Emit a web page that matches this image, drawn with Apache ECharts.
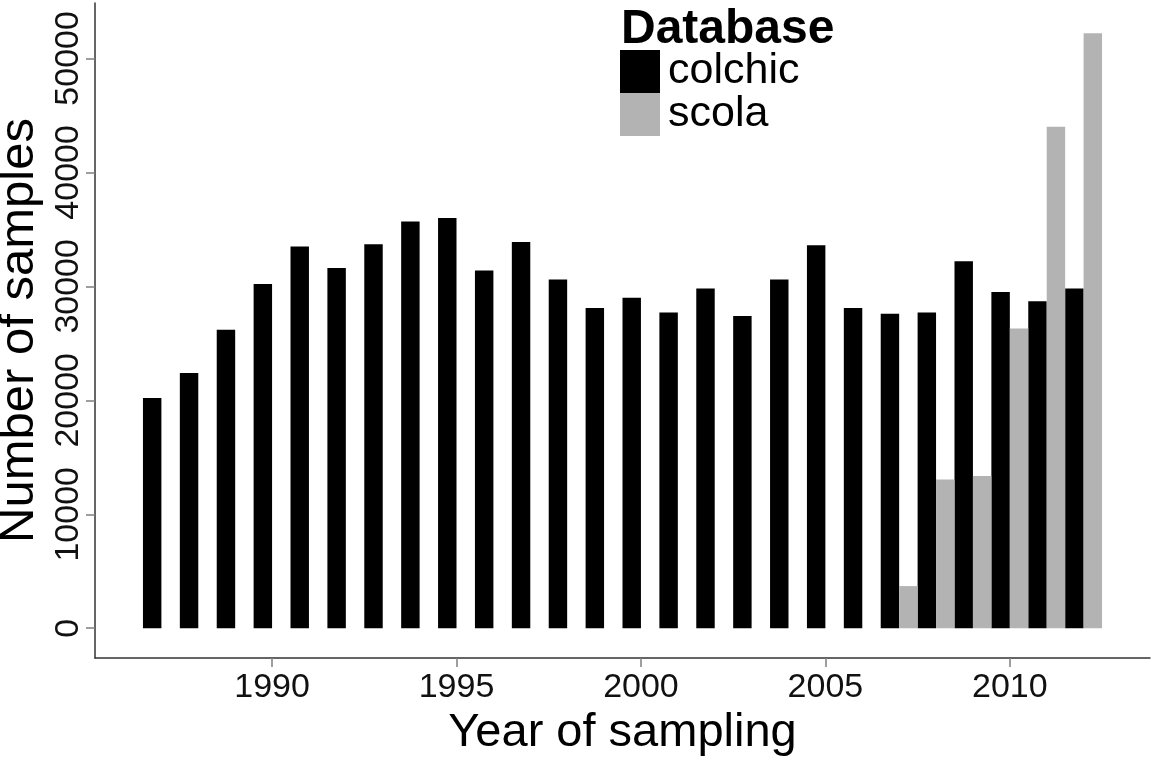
<!DOCTYPE html>
<html>
<head>
<meta charset="utf-8">
<script src="https://cdn.jsdelivr.net/npm/echarts@6/dist/echarts.min.js"></script>
<style>
html,body{margin:0;padding:0;background:#fff;}
#chart{width:1152px;height:760px;}
</style>
</head>
<body>
<div id="chart"></div>
<script>
const years = [1987,1988,1989,1990,1991,1992,1993,1994,1995,1996,1997,1998,1999,2000,2001,2002,2003,2004,2005,2006,2007,2008,2009,2010,2011,2012];
const colchic = [20200,22400,26200,30200,33500,31600,33700,35700,36000,31400,33900,30600,28100,29000,27700,29800,27400,30600,33600,28100,27600,27700,32200,29500,28700,29800];
const scolaYears = [2007,2008,2009,2010,2011,2012];
const scola = [3700,13050,13350,26300,44000,52200];
const xTicks = [1990,1995,2000,2005,2010];
const yTicks = [0,10000,20000,30000,40000,50000];

const HALF = 0.5; // dodged bar width in years

function makeRender(offStart, offEnd) {
  return function (params, api) {
    const x = api.value(0), v = api.value(1);
    const p0 = api.coord([x + offStart, 0]);
    const p1 = api.coord([x + offEnd, v]);
    return {
      type: 'rect',
      shape: { x: p0[0], y: p1[1], width: p1[0] - p0[0], height: p0[1] - p1[1] },
      style: { fill: api.visual('color') }
    };
  };
}

const chart = echarts.init(document.getElementById('chart'), null, { renderer: 'canvas' });
const font = 'Liberation Sans, Arial, sans-serif';
chart.setOption({
  animation: false,
  backgroundColor: '#fff',
  textStyle: { fontFamily: font },
  title: {
    text: 'Database',
    left: 616, top: 1,
    textStyle: { fontFamily: font, fontWeight: 'bold', fontSize: 48, color: '#000' }
  },
  legend: {
    orient: 'vertical',
    left: 620, top: 50,
    itemWidth: 40, itemHeight: 43, itemGap: 0,
    padding: 0,
    data: [{ name: 'colchic', icon: 'rect' }, { name: 'scola', icon: 'rect' }],
    textStyle: { fontFamily: font, fontSize: 43, color: '#000', lineHeight: 43, padding: [0, 0, 0, 3] }
  },
  grid: { left: 95, right: 2, top: 3, bottom: 102, containLabel: false, outerBoundsMode: 'none' },
  xAxis: {
    type: 'value',
    min: 1985.2, max: 2013.8,
    name: 'Year of sampling',
    nameLocation: 'middle',
    nameGap: 52,
    nameTextStyle: { fontFamily: font, fontSize: 47, color: '#000' },
    axisLine: { show: true, onZero: false, lineStyle: { color: '#333', width: 1.5 } },
    axisTick: { show: true, customValues: xTicks, length: 9, lineStyle: { color: '#7f7f7f', width: 1.5 } },
    axisLabel: { customValues: xTicks, fontSize: 34, color: '#111', margin: 13, formatter: v => String(v) },
    splitLine: { show: false }
  },
  yAxis: {
    type: 'value',
    min: -2612, max: 54862,
    name: 'Number of samples',
    nameLocation: 'middle',
    nameRotate: 90,
    nameGap: 34,
    nameTextStyle: { fontFamily: font, fontSize: 49, color: '#000' },
    axisLine: { show: true, onZero: false, lineStyle: { color: '#333', width: 1.5 } },
    axisTick: { show: true, customValues: yTicks, length: 9, lineStyle: { color: '#7f7f7f', width: 1.5 } },
    axisLabel: { customValues: yTicks, rotate: 90, fontSize: 34, color: '#111', margin: 9, formatter: v => String(v) },
    splitLine: { show: false }
  },
  series: [
    {
      name: 'colchic', type: 'custom',
      itemStyle: { color: '#000000' },
      renderItem: makeRender(-HALF, 0),
      encode: { x: 0, y: 1 },
      data: years.map((y, i) => [y, colchic[i]])
    },
    {
      name: 'scola', type: 'custom',
      itemStyle: { color: '#b3b3b3' },
      renderItem: makeRender(0, HALF),
      encode: { x: 0, y: 1 },
      data: scolaYears.map((y, i) => [y, scola[i]])
    }
  ]
});
</script>
</body>
</html>
